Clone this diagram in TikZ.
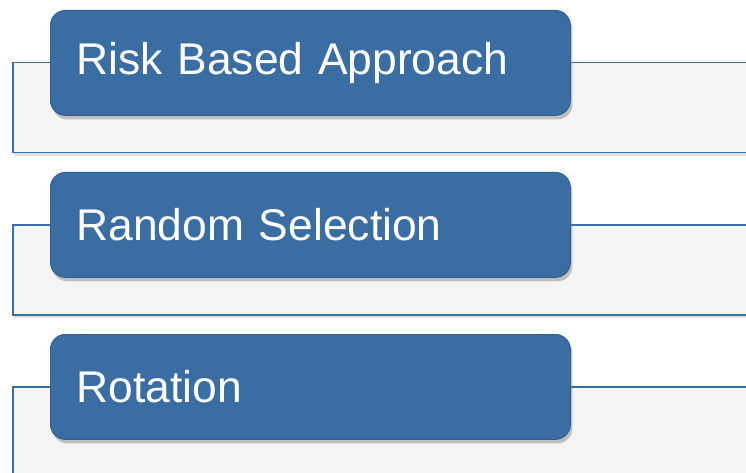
\documentclass[tikz,border=0pt]{standalone}
\usepackage{fontspec}
\setmainfont{Liberation Sans}
\usetikzlibrary{shadows}
\definecolor{panelfill}{HTML}{F4F4F4}
\definecolor{panelline}{HTML}{3A6EA5}
\definecolor{boxfill}{HTML}{3A6EA3}
\definecolor{boxline}{HTML}{2E5C8E}
\begin{document}
\begin{tikzpicture}[x=1pt,y=-1pt,
  panel/.style={draw=panelline, line width=1.5pt, fill=panelfill, anchor=north west,
    minimum width=760pt, minimum height=90pt, inner sep=0pt,
    drop shadow={opacity=0.25, shadow xshift=1pt, shadow yshift=-3pt}},
  tab/.style={draw=boxline, line width=0.8pt, fill=boxfill, rounded corners=15pt,
    anchor=north west, minimum height=105pt, text width=468pt, inner xsep=26pt,
    inner ysep=0pt, align=left, text=white,
    font=\fontsize{44.4}{53}\selectfont,
    drop shadow={opacity=0.45, shadow xshift=2pt, shadow yshift=-4pt}}]
\useasboundingbox (0,0) rectangle (746,473);
\begin{scope}
\clip (0,0) rectangle (746,473);
\node[panel] (p1) at (12,62) {};
\node[panel] (p2) at (12,224) {};
\node[panel] (p3) at (12,386) {};
\node[tab] (t1) at (50,10) {Risk Based Approach};
\node[tab] (t2) at (50,172) {Random Selection};
\node[tab] (t3) at (50,334) {Rotation};
\end{scope}
\end{tikzpicture}
\end{document}
